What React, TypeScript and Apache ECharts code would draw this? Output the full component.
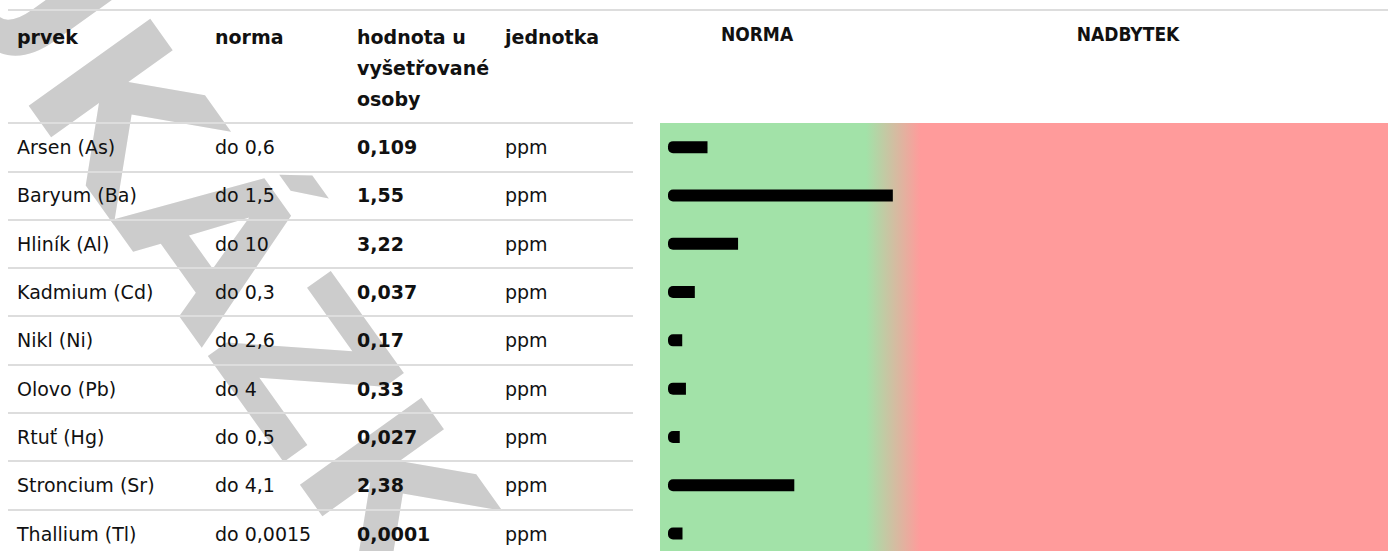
import React, { useEffect, useRef } from "react";
import * as echarts from "echarts";

const prvky = [
  "Arsen (As)",
  "Baryum (Ba)",
  "Hliník (Al)",
  "Kadmium (Cd)",
  "Nikl (Ni)",
  "Olovo (Pb)",
  "Rtuť (Hg)",
  "Stroncium (Sr)",
  "Thallium (Tl)",
];
const normy = [0.6, 1.5, 10, 0.3, 2.6, 4, 0.5, 4.1, 0.0015];
const hodnoty = [0.109, 1.55, 3.22, 0.037, 0.17, 0.33, 0.027, 2.38, 0.0001];
const jednotky = ["ppm", "ppm", "ppm", "ppm", "ppm", "ppm", "ppm", "ppm", "ppm"];
const hlavicky = ["prvek", "norma", "hodnota u\nvyšetřované\nosoby", "jednotka"];
const pasma = ["NORMA", "NADBYTEK"];
const vodoznak = "UKÁZKA";

const cz = (v: number) => String(v).replace(".", ",");

const FONT = "'DejaVu Sans', sans-serif";
const FS = 19;
const GRID_TOP = 123;
const ROW_H = 48.3;
const COLS = [17, 215, 357, 505];
const BAR_LEFT = 668;

export default function App() {
  const ref = useRef<HTMLDivElement>(null);
  useEffect(() => {
    if (!ref.current) return;
    const chart = echarts.init(ref.current, undefined, { renderer: "svg" });
    const ratios = hodnoty.map((v, i) => v / normy[i]);
    const gridH = ROW_H * prvky.length;
    const green = "#a2e2a8";
    const red = "#ff9b9b";

    const labelAxis = (data: string[], colX: number, bold: boolean) => ({
      type: "category",
      gridIndex: 0,
      position: "left",
      inverse: true,
      data,
      axisLine: { show: false },
      axisTick: { show: false },
      splitLine: { show: false },
      axisLabel: {
        interval: 0,
        align: "left",
        margin: BAR_LEFT - colX,
        color: "#111",
        fontFamily: FONT,
        fontSize: FS,
        fontWeight: bold ? "bold" : "normal",
      },
    });

    chart.setOption({
      animation: false,
      grid: [
        { left: BAR_LEFT, top: GRID_TOP, width: 718, height: gridH, outerBoundsMode: "none", containLabel: false },
        { left: 8, top: GRID_TOP, width: 625, height: gridH, outerBoundsMode: "none", containLabel: false },
      ],
      xAxis: [
        { type: "value", gridIndex: 0, min: 0, max: 3.3, show: false },
        { type: "value", gridIndex: 1, min: 0, max: 1, show: false },
      ],
      yAxis: [
        labelAxis(prvky, COLS[0], false),
        labelAxis(normy.map((n) => "do " + cz(n)), COLS[1], false),
        labelAxis(hodnoty.map(cz), COLS[2], true),
        labelAxis(jednotky, COLS[3], false),
        {
          type: "category",
          gridIndex: 1,
          inverse: true,
          data: prvky,
          axisLine: { show: false },
          axisTick: { show: false },
          axisLabel: { show: false },
          splitLine: { show: true, interval: 0, lineStyle: { color: "#dddddd", width: 2 } },
        },
      ],
      graphic: [
        {
          type: "rect",
          z: -10,
          shape: { x: 660, y: GRID_TOP, width: 728, height: 551 - GRID_TOP },
          style: {
            fill: {
              type: "linear",
              x: 0,
              y: 0,
              x2: 1,
              y2: 0,
              colorStops: [
                { offset: 0, color: green },
                { offset: 0.283, color: green },
                { offset: 0.358, color: red },
                { offset: 1, color: red },
              ],
            },
          },
        },
        {
          type: "text",
          z: -9,
          x: 255,
          y: 300,
          rotation: -0.95,
          style: {
            text: vodoznak,
            font: "bold 205px 'DejaVu Sans', sans-serif",
            fill: "#cccccc",
            align: "center",
            verticalAlign: "middle",
          },
        },
        {
          type: "line",
          shape: { x1: 8, y1: 10, x2: 1388, y2: 10 },
          style: { stroke: "#dddddd", lineWidth: 2 },
        },
        ...hlavicky.map((h, i) => ({
          type: "text",
          x: COLS[i],
          y: 21.5,
          style: {
            text: h,
            font: `bold ${FS}px ${FONT}`,
            fill: "#111",
            align: "left",
            verticalAlign: "top",
            lineHeight: 31,
          },
        })),
        ...pasma.map((p, i) => ({
          type: "text",
          x: i === 0 ? 757 : 1128,
          y: 34,
          style: {
            text: p,
            font: `bold ${FS}px 'DejaVu Sans Condensed', 'DejaVu Sans', sans-serif`,
            fill: "#111",
            align: "center",
            verticalAlign: "middle",
          },
        })),
      ],
      series: [
        {
          type: "bar",
          xAxisIndex: 0,
          yAxisIndex: 0,
          data: ratios,
          barWidth: 12,
          itemStyle: { color: "#000", borderRadius: [5, 0, 0, 5] },
        },
      ],
    });
    return () => chart.dispose();
  }, []);
  return (
    <div
      ref={ref}
      style={{ position: "fixed", left: 0, top: 0, width: 1388, height: 551, background: "#fff" }}
    />
  );
}
